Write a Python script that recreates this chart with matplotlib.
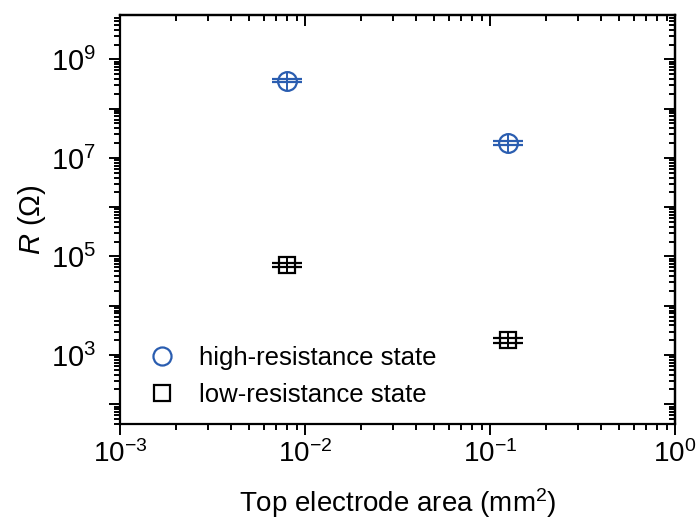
import numpy as np
import matplotlib
matplotlib.use("Agg")
import matplotlib.pyplot as plt
from matplotlib.ticker import LogLocator, FuncFormatter, NullFormatter
from matplotlib.lines import Line2D

plt.rcParams['font.family'] = ['Liberation Sans', 'DejaVu Sans']
plt.rcParams['mathtext.fontset'] = 'custom'
plt.rcParams['mathtext.rm'] = 'Liberation Sans'
plt.rcParams['mathtext.it'] = 'Liberation Sans:italic'

# data
area = [0.0080, 0.125]            # top electrode area (mm^2)
r_high = [3.7e8, 2.0e7]           # high-resistance state (Ohm)
r_high_err = [3.0e7, 1.6e6]
r_low = [6.8e4, 2.0e3]            # low-resistance state (Ohm)
r_low_err = [7.0e3, 2.2e2]
labels = ["high-resistance state", "low-resistance state"]

blue = "#2a5db0"

fig = plt.figure(figsize=(6.96, 5.24), dpi=100)
ax = fig.add_axes([0.1724, 0.1908, 0.7974, 0.7806])
ax.set_xscale("log")
ax.set_yscale("log")
ax.set_xlim(1e-3, 1)
ax.set_ylim(10**1.6, 10**9.9)

# error bars + open markers
ax.errorbar(area, r_high, yerr=r_high_err, fmt="o", ms=13.5, mfc="none",
            mec=blue, mew=1.6, ecolor=blue, elinewidth=1.4, capsize=11,
            capthick=1.6, color=blue)
ax.plot(area, r_high, ls="none", marker="|", ms=13.5, mew=1.4, color=blue)
ax.errorbar(area, r_low, yerr=r_low_err, fmt="s", ms=11.5, mfc="none",
            mec="black", mew=1.6, ecolor="black", elinewidth=1.4, capsize=11,
            capthick=1.6, color="black")
ax.plot(area, r_low, ls="none", marker="|", ms=11.5, mew=1.4, color="black")

# ticks
def ylab(v, pos):
    e = int(round(np.log10(v)))
    return r"$10^{%d}$" % e if e % 2 == 1 else ""

def xlab(v, pos):
    e = int(round(np.log10(v)))
    return r"$10^{%d}$" % e

for axis in (ax.xaxis, ax.yaxis):
    axis.set_major_locator(LogLocator(base=10, numticks=20))
    axis.set_minor_locator(LogLocator(base=10, subs=np.arange(2, 10), numticks=20))
    axis.set_minor_formatter(NullFormatter())
ax.yaxis.set_major_formatter(FuncFormatter(ylab))
ax.xaxis.set_major_formatter(FuncFormatter(xlab))

ax.tick_params(which="both", direction="out", width=1.4)
ax.tick_params(which="major", length=8)
ax.tick_params(which="minor", length=4)
ax.tick_params(axis="y", pad=9, labelsize=21)
ax.tick_params(axis="x", pad=4, labelsize=20)

ident = (lambda v: v, lambda v: v)
top = ax.secondary_xaxis("top", functions=ident)
right = ax.secondary_yaxis("right", functions=ident)
for sec, axis in ((top, top.xaxis), (right, right.yaxis)):
    axis.set_major_locator(LogLocator(base=10, numticks=20))
    axis.set_minor_locator(LogLocator(base=10, subs=np.arange(2, 10), numticks=20))
    axis.set_major_formatter(NullFormatter())
    axis.set_minor_formatter(NullFormatter())
    sec.tick_params(which="both", direction="in", width=1.4)
    sec.tick_params(which="major", length=8)
    sec.tick_params(which="minor", length=4)

for s in ax.spines.values():
    s.set_linewidth(1.6)
for s in list(top.spines.values()) + list(right.spines.values()):
    s.set_linewidth(1.6)

ax.set_xlabel(r"Top electrode area (mm$^2$)", fontsize=20, labelpad=13)
ax.set_ylabel(r"$R$ (Ω)", fontsize=21, labelpad=2)

handles = [
    Line2D([], [], ls="none", marker="o", ms=13, mfc="none", mec=blue, mew=1.6),
    Line2D([], [], ls="none", marker="s", ms=11.5, mfc="none", mec="black", mew=1.6),
]
ax.legend(handles, labels, loc="lower left", bbox_to_anchor=(0.004, -0.006),
          frameon=False, fontsize=18.5, handletextpad=0.65, labelspacing=0.5,
          borderaxespad=0.35, handlelength=1.6)

fig.savefig("out.png", dpi=100)
